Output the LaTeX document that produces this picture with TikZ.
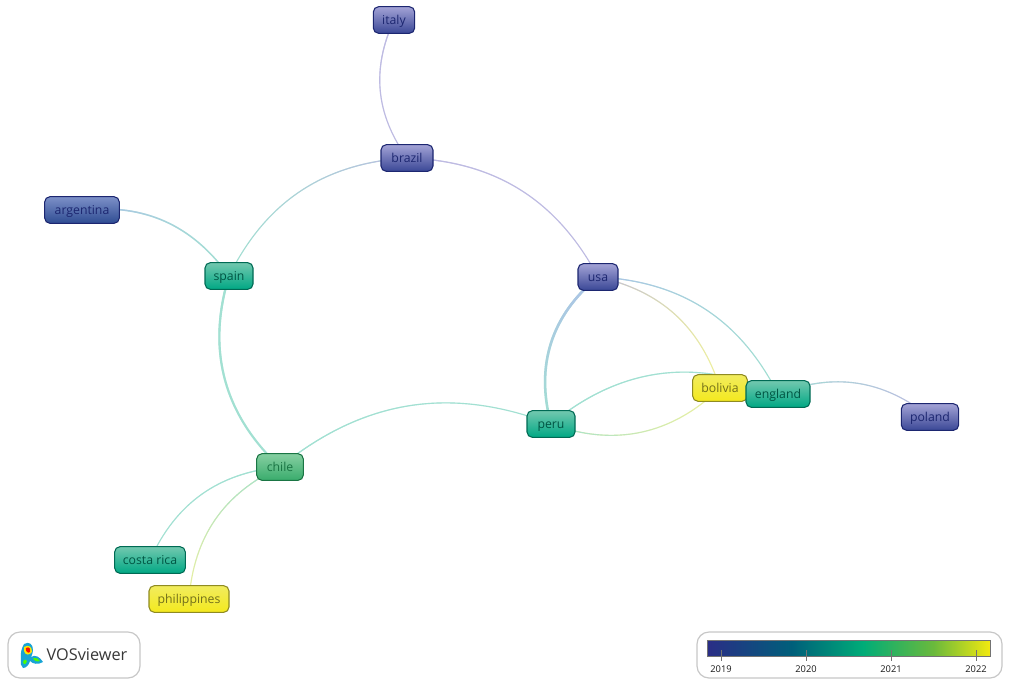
\documentclass[tikz,border=0pt]{standalone}
\usepackage{fontspec}
\setmainfont{Open Sans}
\usetikzlibrary{backgrounds,fadings}

\definecolor{bluetop}{HTML}{A3A3D6}
\definecolor{bluebot}{HTML}{3A4796}
\definecolor{blueline}{HTML}{1C2670}
\definecolor{argtop}{HTML}{7D90C8}
\definecolor{argbot}{HTML}{2E4C92}
\definecolor{teeltop}{HTML}{72C8AF}
\definecolor{teelbot}{HTML}{00A884}
\definecolor{teelline}{HTML}{006A54}
\definecolor{greentop}{HTML}{86CFA2}
\definecolor{greenbot}{HTML}{39AC6C}
\definecolor{greenline}{HTML}{1A7544}
\definecolor{yeltop}{HTML}{F1EC5E}
\definecolor{yelbot}{HTML}{F4E91E}
\definecolor{yelline}{HTML}{8F8B22}
\definecolor{lavedge}{HTML}{BEBBE2}
\definecolor{skyedge}{HTML}{AEC2E8}
\definecolor{mintedge}{HTML}{A2E0D2}
\definecolor{paleedge}{HTML}{F0F29C}
\definecolor{barA}{HTML}{2A2D86}
\definecolor{barB}{HTML}{005F7A}
\definecolor{barC}{HTML}{00AC78}
\definecolor{barD}{HTML}{6AB93C}
\definecolor{barE}{HTML}{F2E910}

\tikzset{
  item/.style={draw, rounded corners=4pt, line width=0.8pt, inner sep=0pt,
    minimum height=20pt, text height=8.8pt, text depth=2pt, font=\fontsize{9.2}{10}\selectfont},
  bluebox/.style={item, top color=bluetop, bottom color=bluebot, draw=blueline, text=blueline},
  argbox/.style={item, top color=argtop, bottom color=argbot, draw=blueline, text=blueline},
  teelbox/.style={item, top color=teeltop, bottom color=teelbot, draw=teelline, text=teelline!80!black},
  greenbox/.style={item, top color=greentop, bottom color=greenbot, draw=greenline, text=greenline},
  yelbox/.style={item, top color=yeltop, bottom color=yelbot, draw=yelline, text=yelline!80!black},
  panel/.style={draw=black!22, line width=0.9pt, rounded corners=9pt, fill=white},
  tick/.style={draw=black!55, line width=0.7pt},
}

\pgfdeclarehorizontalshading{yearbar}{100bp}{
  color(0bp)=(barA);
  color(25bp)=(barA);
  color(40bp)=(barB);
  color(52.5bp)=(barC);
  color(65bp)=(barD);
  color(75bp)=(barE);
  color(100bp)=(barE)
}

\begin{document}
\begin{tikzpicture}[x=0.75pt, y=-0.75pt]

\useasboundingbox (0,0) rectangle (1009,689);

\node [bluebox, minimum width=31pt] (italy) at (394,20) {italy};
\node [bluebox, minimum width=39pt] (brazil) at (407,158) {brazil};
\node [argbox, minimum width=56pt] (argentina) at (82,210) {argentina};
\node [teelbox, minimum width=36pt] (spain) at (229,276) {spain};
\node [bluebox, minimum width=30pt] (usa) at (598,277) {usa};
\node [teelbox, minimum width=36pt] (peru) at (551,424) {peru};
\node [yelbox, minimum width=41pt] (bolivia) at (720,388) {bolivia};
\node [teelbox, minimum width=48pt] (england) at (778,394) {england};
\node [bluebox, minimum width=43pt] (poland) at (930,417) {poland};
\node [greenbox, minimum width=35pt] (chile) at (280,467) {chile};
\node [teelbox, minimum width=53pt] (costa) at (150,560) {costa rica};
\node [yelbox, minimum width=60pt] (philippines) at (189,599) {philippines};

\begin{scope}[on background layer]
\foreach \from/\to/\bnd/\wide/\colstart/\colend/\ang in {
  italy/brazil/-30/0.85/lavedge/lavedge/270,
  brazil/usa/30/0.85/lavedge/lavedge/0,
  brazil/spain/-30/0.85/lavedge/mintedge/180,
  argentina/spain/30/1.1/skyedge/mintedge/0,
  spain/chile/-32/1.6/mintedge/mintedge/270,
  chile/peru/30/0.85/mintedge/mintedge/0,
  usa/peru/-33/1.9/skyedge/mintedge/270,
  usa/england/30/0.85/skyedge/mintedge/0,
  usa/bolivia/30/0.85/lavedge/paleedge/0,
  peru/england/32/0.85/mintedge/mintedge/0,
  peru/bolivia/-32/0.85/mintedge/paleedge/0,
  england/poland/30/0.85/mintedge/lavedge/0,
  chile/costa/-30/0.85/mintedge/mintedge/180,
  chile/philippines/-30/0.85/mintedge/paleedge/270}{
  \draw [\colend, line width=\wide pt] (\from.center) to [bend left=\bnd] (\to.center);
  \draw [\colstart, line width=\wide pt, path fading=east, fading angle=\ang] (\from.center) to [bend left=\bnd] (\to.center);
}
\end{scope}

% legend
\path [panel] (8,632) rectangle (140,678);
\path [panel] (697,632) rectangle (1002,678);

\path [fill=cyan!70!teelbot] (21,660) .. controls (20,652) and (22,648) .. (24,644) .. controls (29,641) and (33,644) .. (33,650) .. controls (33,653) and (32,655) .. (31,657) .. controls (35,654) and (40,657) .. (43,662) .. controls (38,665) and (33,664) .. (30,661) .. controls (29,665) and (26,668) .. (23,668) .. controls (21,666) and (20,663) .. (21,660);
\path [fill=green!70!yellow] (23,662) .. controls (24,659) and (27,659) .. (27,661) .. controls (26,664) and (24,666) .. (23,662);
\path [fill=green!70!yellow] (33,658) .. controls (36,657) and (39,659) .. (40,661) .. controls (37,662) and (34,661) .. (33,658);
\path [fill=yellow!90!orange] (24,647) .. controls (29,644) and (32,647) .. (32,652) .. controls (29,656) and (25,655) .. (24,651) -- cycle;
\path [fill=red!90!orange] (26,648) .. controls (29,646) and (31,649) .. (30,652) .. controls (28,654) and (25,651) .. (26,648);

\node [text=black!78, font=\fontsize{12.2}{14}\selectfont] (logo) at (87,655) {VOSviewer};

\path [shading=yearbar, draw=black!55, line width=0.7pt] (707,640) rectangle (990,656);

\foreach \n/\m in {721/2019,806/2020,891/2021,976/2022}{
  \draw [tick] (\n,650) -- (\n,661);
  \node [font=\fontsize{7}{8}\selectfont, text=black!90] (year\m) at (\n,669) {\m};
}

\end{tikzpicture}
\end{document}
